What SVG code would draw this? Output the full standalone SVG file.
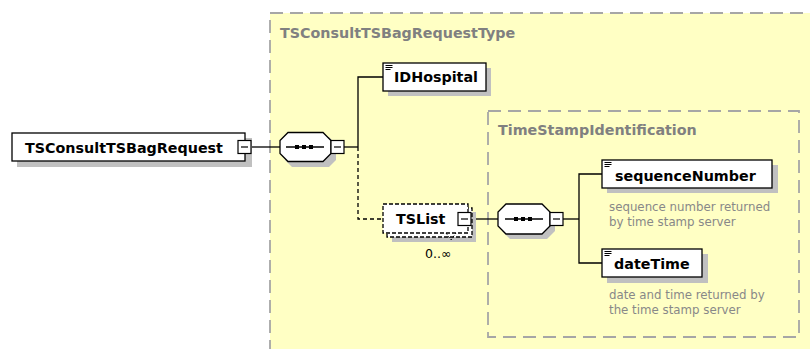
<svg xmlns="http://www.w3.org/2000/svg" width="810" height="349" viewBox="0 0 810 349">
  <style>
    .type { fill: #FFFFC4; stroke: #A6A6A6; stroke-width: 1.8; stroke-dasharray: 13 7; }
    .title { font-family: "DejaVu Sans", Verdana, sans-serif; font-weight: bold; font-size: 14.3px; fill: #808080; }
    .label { font-family: "DejaVu Sans", Verdana, sans-serif; font-weight: bold; font-size: 14.3px; fill: #000; }
    .desc { font-family: "DejaVu Sans", Verdana, sans-serif; font-size: 11.8px; fill: #888; }
    .occurs { font-family: "DejaVu Sans", Verdana, sans-serif; font-size: 12.5px; fill: #000; }
    .box { fill: #fff; stroke: #000; stroke-width: 1.3; }
    .optbox { fill: #fff; stroke: #000; stroke-width: 1.3; stroke-dasharray: 4 2; }
    .shadow { fill: #C0C0C0; }
    .wire { fill: none; stroke: #000; stroke-width: 1.3; }
    .optwire { fill: none; stroke: #000; stroke-width: 1.3; stroke-dasharray: 4 3; }
    .mark { stroke: #000; stroke-width: 1; }
  </style>
  <defs>
    <!-- collapse toggle: small box with a minus sign -->
    <g id="minus">
      <rect x="0" y="0" width="13" height="13" fill="#fff" stroke="#000" stroke-width="1.2"/>
      <line x1="3" y1="6.5" x2="10" y2="6.5" stroke="#000" stroke-width="1.2"/>
    </g>
    <!-- simple-content marker in the top-left corner of element boxes -->
    <g id="content-mark">
      <line class="mark" x1="0" y1="0.5" x2="7" y2="0.5"/>
      <line class="mark" x1="0" y1="2.5" x2="7" y2="2.5"/>
      <line class="mark" x1="0" y1="4.5" x2="5" y2="4.5"/>
    </g>
  </defs>

  <rect width="810" height="349" fill="#fff"/>

  <!-- complex type TSConsultTSBagRequestType -->
  <g id="type-TSConsultTSBagRequestType">
    <rect class="type" x="270" y="13" width="570" height="360"/>
    <text class="title" x="280" y="38">TSConsultTSBagRequestType</text>
  </g>

  <!-- complex type TimeStampIdentification -->
  <g id="type-TimeStampIdentification">
    <rect class="type" x="488" y="111" width="311" height="226"/>
    <text class="title" x="498" y="135">TimeStampIdentification</text>
  </g>

  <!-- connectors -->
  <g id="connectors">
    <line class="wire" x1="251" y1="147" x2="280" y2="147"/>
    <line class="wire" x1="344" y1="147" x2="358" y2="147"/>
    <polyline class="wire" points="358,147 358,77 383,77"/>
    <polyline class="optwire" points="358,147 358,219 383,219"/>
    <line class="wire" x1="471" y1="219" x2="498" y2="219"/>
    <line class="wire" x1="563" y1="219" x2="579" y2="219"/>
    <polyline class="wire" points="602,174 579,174 579,263 602,263"/>
  </g>

  <!-- root element -->
  <g id="node-TSConsultTSBagRequest">
    <rect class="shadow" x="17" y="138" width="235" height="29"/>
    <rect class="box" x="12" y="133" width="233" height="28"/>
    <text class="label" x="25" y="152.5">TSConsultTSBagRequest</text>
    <use href="#minus" x="238" y="140.5"/>
  </g>

  <!-- sequence compositor of TSConsultTSBagRequestType -->
  <g id="node-sequence-1">
    <path class="shadow" d="M292,137 H329 L336,144 V160 L329,167 H292 L285,160 V144 Z"/>
    <path class="box" d="M288,132.5 H323 L331,140.5 V153.5 L323,161.5 H288 L280,153.5 V140.5 Z"/>
    <line x1="286" y1="147" x2="324" y2="147" stroke="#000" stroke-width="1.3"/>
    <rect x="295" y="145" width="4" height="4" fill="#000"/>
    <rect x="302" y="145" width="4" height="4" fill="#000"/>
    <rect x="309" y="145" width="4" height="4" fill="#000"/>
    <use href="#minus" x="331" y="140.5"/>
  </g>

  <!-- element IDHospital -->
  <g id="node-IDHospital">
    <rect class="shadow" x="388" y="68" width="103" height="28"/>
    <rect class="box" x="383" y="63" width="103" height="28"/>
    <use href="#content-mark" x="385.5" y="65"/>
    <text class="label" x="394" y="82">IDHospital</text>
  </g>

  <!-- element TSList, optional and repeating -->
  <g id="node-TSList">
    <rect class="shadow" x="392" y="212" width="84" height="30"/>
    <rect class="optbox" x="387" y="208" width="85" height="29"/>
    <rect class="optbox" x="383" y="204" width="85" height="29"/>
    <polyline fill="none" stroke="#000" stroke-width="1" stroke-dasharray="2 2" points="446,233 451,240 456,233"/>
    <text class="label" x="396" y="224">TSList</text>
    <use href="#minus" x="458" y="212.5"/>
    <text class="occurs" x="425" y="258">0..∞</text>
  </g>

  <!-- sequence compositor of TimeStampIdentification -->
  <g id="node-sequence-2">
    <path class="shadow" d="M510,209 H547 L555,217 V231 L547,239 H510 L502,231 V217 Z"/>
    <path class="box" d="M506,204 H542 L550,212 V226 L542,234 H506 L498,226 V212 Z"/>
    <line x1="505" y1="219" x2="543" y2="219" stroke="#000" stroke-width="1.3"/>
    <rect x="514" y="217" width="4" height="4" fill="#000"/>
    <rect x="521" y="217" width="4" height="4" fill="#000"/>
    <rect x="528" y="217" width="4" height="4" fill="#000"/>
    <use href="#minus" x="550" y="212.5"/>
  </g>

  <!-- element sequenceNumber -->
  <g id="node-sequenceNumber">
    <rect class="shadow" x="607" y="165" width="171" height="28"/>
    <rect class="box" x="602" y="160" width="170" height="28"/>
    <use href="#content-mark" x="604.5" y="162"/>
    <text class="label" x="615" y="181">sequenceNumber</text>
    <text class="desc" x="609" y="211">sequence number returned</text>
    <text class="desc" x="609" y="225.5">by time stamp server</text>
  </g>

  <!-- element dateTime -->
  <g id="node-dateTime">
    <rect class="shadow" x="607" y="254" width="101" height="29"/>
    <rect class="box" x="602" y="249" width="100" height="28"/>
    <use href="#content-mark" x="604.5" y="251"/>
    <text class="label" x="614" y="269">dateTime</text>
    <text class="desc" x="609" y="298.5">date and time returned by</text>
    <text class="desc" x="609" y="313.5">the time stamp server</text>
  </g>
</svg>
